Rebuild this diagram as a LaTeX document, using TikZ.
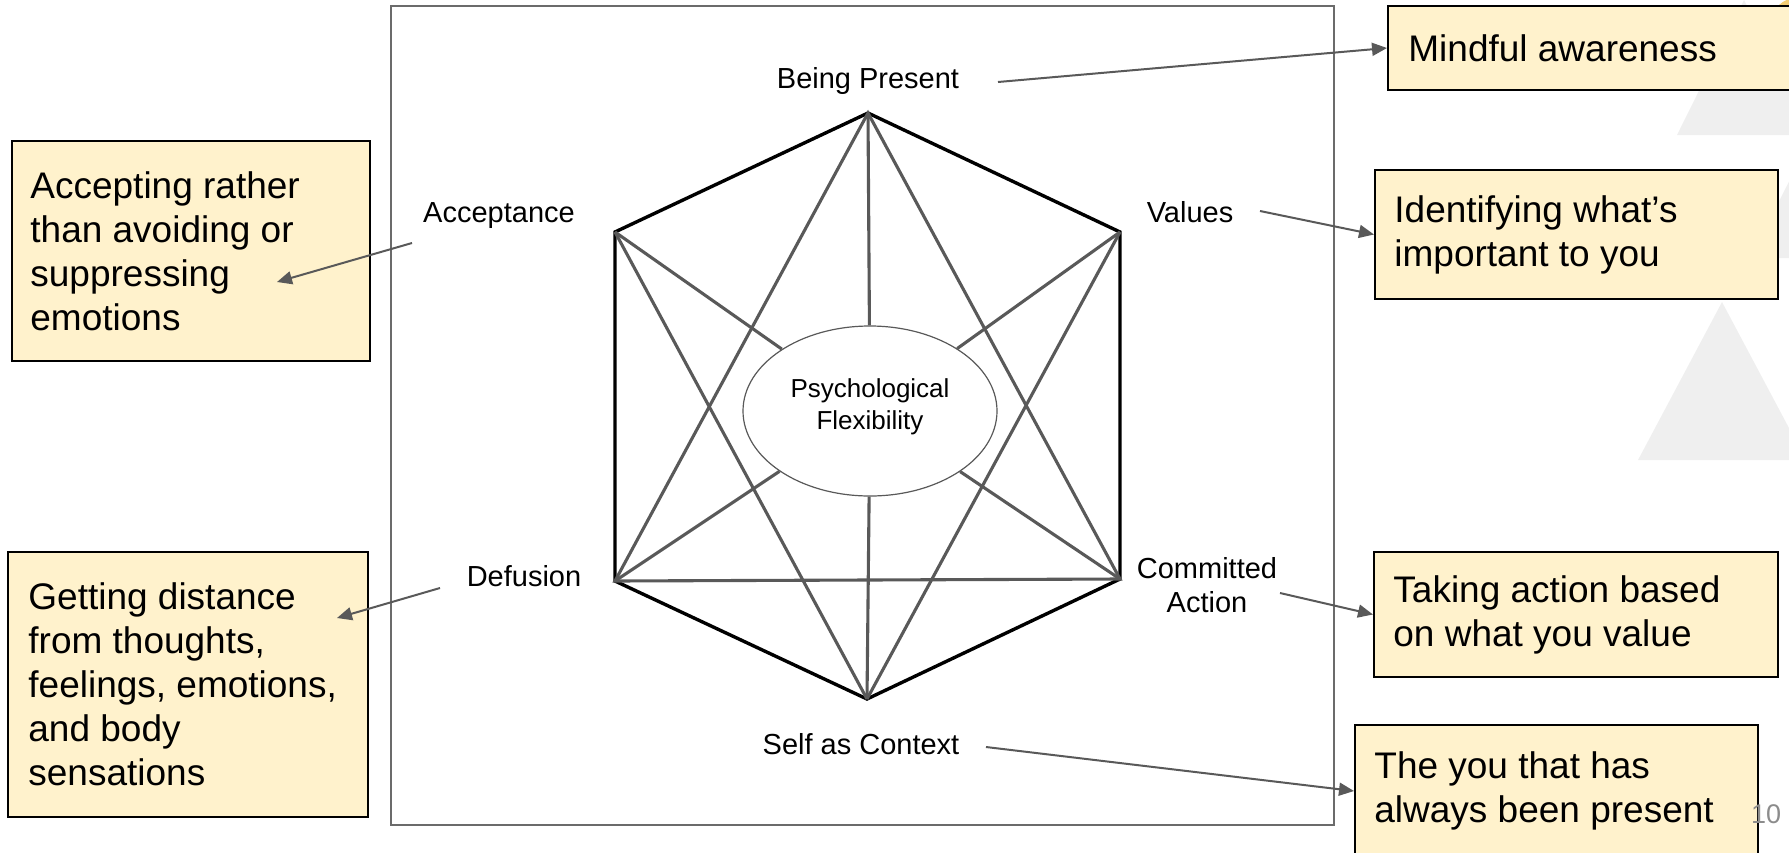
\documentclass[tikz,border=0pt]{standalone}
\usepackage{fontspec}
\setmainfont{Liberation Sans}
\usetikzlibrary{shapes.geometric,arrows.meta}
\definecolor{boxfill}{HTML}{FFF2CC}
\definecolor{linegray}{HTML}{595959}
\definecolor{framegray}{HTML}{6B6B6B}
\definecolor{trigray}{HTML}{EFEFEF}
\definecolor{pagegray}{HTML}{8C8C8C}
\definecolor{blob}{HTML}{F4CE74}
\begin{document}
\begin{tikzpicture}[x=0.5pt,y=-0.5pt,
  lbl/.style={font=\fontsize{14.5pt}{17pt}\selectfont, inner sep=0pt, align=center},
  notebox/.style={draw=black, line width=1pt, fill=boxfill, inner sep=0pt, anchor=north west},
  notetext/.style={font=\fontsize{18.5pt}{22pt}\selectfont, align=left, inner sep=0pt, anchor=west},
  conn/.style={draw=linegray, line width=1pt, -{Triangle[length=7.5pt,width=6.5pt]}},
  hexedge/.style={draw=black, line width=1.7pt, line join=miter},
  innerline/.style={draw=linegray, line width=1.55pt},
  bgtri/.style={fill=trigray, draw=none}
]
\useasboundingbox (0,0) rectangle (1789,852);
\clip (0,0) rectangle (1789,852);

% background decoration
\fill[bgtri] (1744,0) -- (1812,135) -- (1677,135) -- cycle;
\fill[bgtri] (1722,302) -- (1806,460) -- (1638,460) -- cycle;
\fill[bgtri] (1800,160) -- (1850,258) -- (1750,258) -- cycle;
\fill[blob] (1796,22) circle[radius=24];

% frame
\draw[draw=framegray, line width=0.8pt] (391,6) rectangle (1334,825);

% note boxes
\node[notebox, minimum width=210pt, minimum height=42pt] (mindbox) at (1387,5) {};
\node[notetext] (mindtxt) at ([xshift=10.5pt]mindbox.west) {Mindful awareness};

\node[notebox, minimum width=201.5pt, minimum height=64.5pt] (idbox) at (1374,169) {};
\node[notetext] (idtxt) at ([xshift=10pt]idbox.west) {Identifying what’s\\important to you};

\node[notebox, minimum width=202pt, minimum height=62.5pt] (takebox) at (1373,551) {};
\node[notetext] (taketxt) at ([xshift=10pt]takebox.west) {Taking action based\\on what you value};

\node[notebox, minimum width=201.5pt, minimum height=66pt] (youbox) at (1354,724) {};
\node[notetext] (youtxt) at ([xshift=10pt]youbox.west) {The you that has\\always been present};

\node[notebox, minimum width=179pt, minimum height=110pt] (accbox) at (11,140) {};
\node[notetext] (acctxt) at ([xshift=9.5pt]accbox.west) {Accepting rather\\than avoiding or\\suppressing\\emotions};

\node[notebox, minimum width=180pt, minimum height=132.5pt] (getbox) at (7,551) {};
\node[notetext] (gettxt) at ([xshift=10.5pt]getbox.west) {Getting distance\\from thoughts,\\feelings, emotions,\\and body\\sensations};

% hexagon vertices
\coordinate (T) at (868,113);
\coordinate (UL) at (615,232);
\coordinate (UR) at (1120,232);
\coordinate (LL) at (615,581);
\coordinate (LR) at (1120,579);
\coordinate (B) at (867,699);

\node[ellipse, draw=linegray, line width=0.6pt, fill=white, minimum width=127pt, minimum height=85pt, inner sep=0pt] (pf) at (870,411) {};
\node[font=\fontsize{13pt}{16pt}\selectfont, align=center, inner sep=0pt] (pftxt) at (870,407) {Psychological\\Flexibility};

\draw[hexedge] (T) -- (UR) -- (LR) -- (B) -- (LL) -- (UL) -- cycle;

\draw[innerline] (T) -- (LL) -- (LR) -- cycle;
\draw[innerline] (B) -- (UL);
\draw[innerline] (B) -- (UR);
\draw[innerline] (T) -- (pf);
\draw[innerline] (B) -- (pf);
\draw[innerline] (UL) -- (pf);
\draw[innerline] (UR) -- (pf);
\draw[innerline] (LL) -- (pf);
\draw[innerline] (LR) -- (pf);

% labels
\node[lbl, anchor=base] (bp) at (868,88) {Being Present};
\node[lbl, anchor=base] (acc) at (499,222) {Acceptance};
\node[lbl, anchor=base] (val) at (1190,222) {Values};
\node[lbl, anchor=base] (def) at (524,586) {Defusion};
\node[lbl, anchor=base] (ca1) at (1207,578) {Committed};
\node[lbl, anchor=base] (ca2) at (1207,612) {Action};
\node[lbl, anchor=base] (sac) at (861,754) {Self as Context};

\node[font=\fontsize{13.5pt}{16pt}\selectfont, text=pagegray, inner sep=0pt, anchor=base] (pagenum) at (1766,823) {10};

% connectors
\coordinate (bpS) at (998,82);
\coordinate (valS) at (1260,211);
\coordinate (caS) at (1280,593);
\coordinate (scS) at (986,747);
\coordinate (accS) at (412,243);
\coordinate (accT) at (277,282);
\coordinate (defS) at (440,588);
\coordinate (defT) at (337,618);

\draw[conn] (bpS) -- (mindbox.west);
\draw[conn] (valS) -- (idbox.west);
\draw[conn] (caS) -- (takebox.west);
\draw[conn] (scS) -- (youbox.west);
\draw[conn] (accS) -- (accT);
\draw[conn] (defS) -- (defT);
\end{tikzpicture}
\end{document}
